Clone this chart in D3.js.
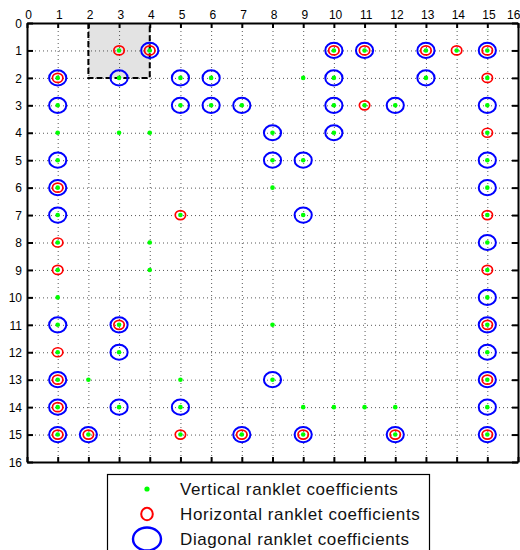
<!DOCTYPE html>
<html>
<head>
<meta charset="utf-8">
<script src="https://cdn.jsdelivr.net/npm/d3@7/dist/d3.min.js"></script>
<style>
  html, body { margin: 0; padding: 0; background: #fff; }
  svg { display: block; }
  .tick text { font-family: "Liberation Sans", Arial, sans-serif; font-size: 12px; fill: #000; }
</style>
</head>
<body>
<svg id="chart" width="520" height="550"></svg>
<script>
// Ranklet coefficient positions, given as [column, row]
const verticalCoeffs = [
  [3,1],[4,1],[10,1],[11,1],[13,1],[14,1],[15,1],
  [1,2],[3,2],[5,2],[6,2],[9,2],[10,2],[13,2],[15,2],
  [1,3],[5,3],[6,3],[7,3],[10,3],[11,3],[12,3],[15,3],
  [1,4],[3,4],[4,4],[8,4],[10,4],[15,4],
  [1,5],[8,5],[9,5],[15,5],
  [1,6],[8,6],[15,6],
  [1,7],[5,7],[9,7],[15,7],
  [1,8],[4,8],[15,8],
  [1,9],[4,9],[15,9],
  [1,10],[15,10],
  [1,11],[3,11],[8,11],[15,11],
  [1,12],[3,12],[15,12],
  [1,13],[2,13],[5,13],[8,13],[15,13],
  [1,14],[3,14],[5,14],[9,14],[10,14],[11,14],[12,14],[15,14],
  [1,15],[2,15],[5,15],[7,15],[9,15],[12,15],[15,15]
];
const horizontalCoeffs = [
  [3,1],[4,1],[10,1],[11,1],[13,1],[14,1],[15,1],
  [1,2],[15,2],
  [11,3],
  [15,4],
  [1,6],
  [5,7],[15,7],
  [1,8],
  [1,9],[15,9],
  [3,11],[15,11],
  [1,12],
  [1,13],[15,13],
  [1,14],
  [1,15],[2,15],[5,15],[7,15],[9,15],[12,15],[15,15]
];
const diagonalCoeffs = [
  [4,1],[10,1],[11,1],[13,1],[15,1],
  [1,2],[3,2],[5,2],[6,2],[10,2],[13,2],
  [1,3],[5,3],[6,3],[7,3],[10,3],[12,3],[15,3],
  [8,4],[10,4],
  [1,5],[8,5],[9,5],[15,5],
  [1,6],[15,6],
  [1,7],[9,7],
  [15,8],
  [15,10],
  [1,11],[3,11],[15,11],
  [3,12],[15,12],
  [1,13],[8,13],[15,13],
  [1,14],[3,14],[5,14],[15,14],
  [1,15],[2,15],[7,15],[9,15],[12,15],[15,15]
];
// Highlighted block: columns 2..4, rows 0..2
const highlightBlock = { x0: 2, x1: 4, y0: 0, y1: 2 };
const tickValues = d3.range(0, 17);
const legendLabels = [
  "Vertical ranklet coefficients",
  "Horizontal ranklet coefficients",
  "Diagonal ranklet coefficients"
];

const svg = d3.select("#chart");
const plotL = 27, plotR = 518, plotT = 23, plotB = 462;

const x = d3.scaleLinear().domain([0, 16]).range([plotL, plotR]);
const y = d3.scaleLinear().domain([0, 16]).range([plotT, plotB]);

// shaded block
svg.append("rect")
  .attr("x", x(highlightBlock.x0)).attr("y", y(highlightBlock.y0))
  .attr("width", x(highlightBlock.x1) - x(highlightBlock.x0))
  .attr("height", y(highlightBlock.y1) - y(highlightBlock.y0))
  .attr("fill", "#e3e3e3");

// dotted grid
const grid = svg.append("g").attr("stroke", "#222").attr("stroke-width", 1)
  .attr("stroke-dasharray", "1,3").attr("opacity", 0.75);
grid.selectAll(".gx").data(d3.range(1, 16)).join("line")
  .attr("x1", d => x(d) + 0.5).attr("x2", d => x(d) + 0.5)
  .attr("y1", plotT).attr("y2", plotB);
grid.selectAll(".gy").data(d3.range(1, 16)).join("line")
  .attr("y1", d => y(d) + 0.5).attr("y2", d => y(d) + 0.5)
  .attr("x1", plotL).attr("x2", plotR);

// dashed outline of the block
svg.append("path")
  .attr("d", `M${x(highlightBlock.x0)},${y(highlightBlock.y0)}V${y(highlightBlock.y1)}H${x(highlightBlock.x1)}V${y(highlightBlock.y0)}`)
  .attr("fill", "none").attr("stroke", "#000").attr("stroke-width", 2)
  .attr("stroke-dasharray", "6,3");

// axes with inward ticks
const axTop = svg.append("g").attr("transform", `translate(0,${plotT})`)
  .call(d3.axisTop(x).tickValues(tickValues).tickSizeInner(-5).tickSizeOuter(0).tickPadding(4).tickFormat(d3.format("d")));
const axLeft = svg.append("g").attr("transform", `translate(${plotL},0)`)
  .call(d3.axisLeft(y).tickValues(tickValues).tickSizeInner(-6).tickSizeOuter(0).tickPadding(5).tickFormat(d3.format("d")));
const axBottom = svg.append("g").attr("transform", `translate(0,${plotB})`)
  .call(d3.axisBottom(x).tickValues(tickValues).tickSizeInner(-5).tickSizeOuter(0).tickFormat(""));
const axRight = svg.append("g").attr("transform", `translate(${plotR},0)`)
  .call(d3.axisRight(y).tickValues(tickValues).tickSizeInner(-6).tickSizeOuter(0).tickFormat(""));
[axTop, axLeft, axBottom, axRight].forEach(g => {
  g.select(".domain").attr("stroke", "#000").attr("stroke-width", 2);
  g.selectAll(".tick line").attr("stroke", "#000").attr("stroke-width", 2);
});
axTop.selectAll(".tick text").attr("dx", "0.1em");
// keep the last top label inside the page edge
axTop.selectAll(".tick text").filter(d => d === 16).attr("text-anchor", "end").attr("dx", "0.15em");
axLeft.selectAll(".tick text").attr("dy", "0.35em");

// markers
const marks = svg.append("g");
marks.selectAll(".diag").data(diagonalCoeffs).join("ellipse")
  .attr("cx", d => x(d[0])).attr("cy", d => y(d[1]))
  .attr("rx", 8.6).attr("ry", 7.6)
  .attr("fill", "none").attr("stroke", "#0000ff").attr("stroke-width", 2);
marks.selectAll(".horiz").data(horizontalCoeffs).join("ellipse")
  .attr("cx", d => x(d[0])).attr("cy", d => y(d[1]))
  .attr("rx", 5.2).attr("ry", 4.5)
  .attr("fill", "none").attr("stroke", "#ff0000").attr("stroke-width", 1.7);
marks.selectAll(".vert").data(verticalCoeffs).join("circle")
  .attr("cx", d => x(d[0])).attr("cy", d => y(d[1]))
  .attr("r", 2.3).attr("fill", "#00ff00");

// legend
const lg = svg.append("g");
lg.append("rect").attr("x", 107.5).attr("y", 474.5).attr("width", 322).attr("height", 90)
  .attr("fill", "#fff").attr("stroke", "#000").attr("stroke-width", 1.2);
const rows = [489, 514, 539];
lg.append("circle").attr("cx", 147).attr("cy", rows[0]).attr("r", 2.6).attr("fill", "#00ff00");
lg.append("ellipse").attr("cx", 147).attr("cy", rows[1]).attr("rx", 5.8).attr("ry", 6.2)
  .attr("fill", "none").attr("stroke", "#ff0000").attr("stroke-width", 2);
lg.append("ellipse").attr("cx", 147).attr("cy", rows[2]).attr("rx", 14).attr("ry", 11.5)
  .attr("fill", "none").attr("stroke", "#0000ff").attr("stroke-width", 2.4);
lg.selectAll("text.lbl").data(legendLabels).join("text")
  .attr("x", 180).attr("y", (d, i) => rows[i] + 6)
  .attr("font-family", "Liberation Sans, Arial, sans-serif")
  .attr("font-size", 17).attr("letter-spacing", 0.6)
  .attr("fill", "#111")
  .text(d => d);
</script>
</body>
</html>
